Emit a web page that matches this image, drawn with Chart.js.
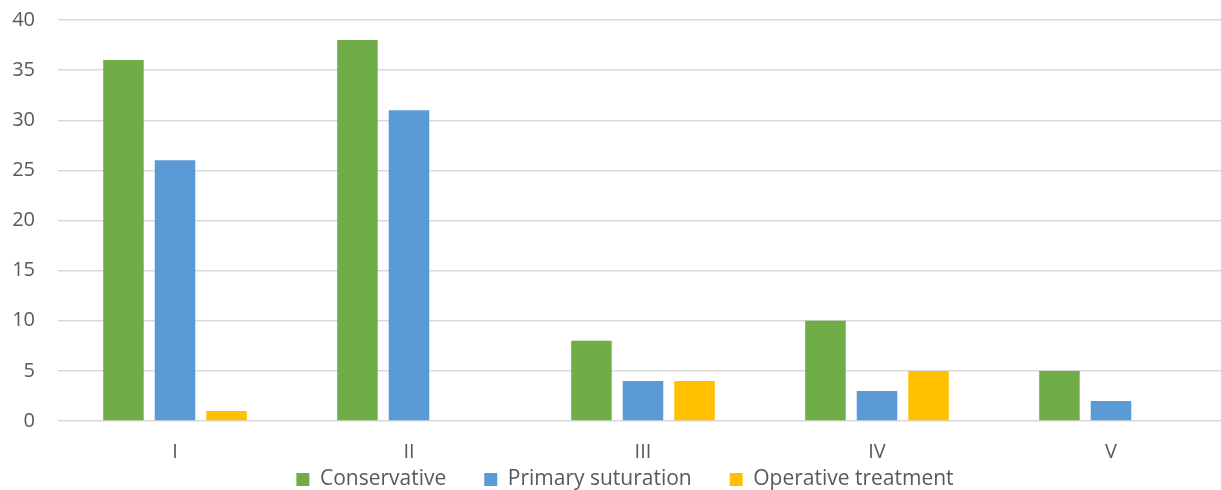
<!DOCTYPE html>
<html>
<head>
<meta charset="utf-8">
<script src="https://cdn.jsdelivr.net/npm/chart.js@4.4.0/dist/chart.umd.min.js"></script>
<style>
  html, body { margin: 0; padding: 0; background: #fff; overflow: hidden; }
  #wrap { width: 1228px; height: 500px; }
</style>
</head>
<body>
<div id="wrap"><canvas id="barChart"></canvas></div>
<script>
const grades = ['I', 'II', 'III', 'IV', 'V'];
const conservative = [36, 38, 8, 10, 5];
const primarySuturation = [26, 31, 4, 3, 2];
const operativeTreatment = [1, 0, 4, 5, 0];
const yTicks = [0, 5, 10, 15, 20, 25, 30, 35, 40];

const textClr = '#595959';
const gridClr = '#d9d9d9';
const tickFont = { family: '"Open Sans", sans-serif', size: 20 };
const legendFont = { family: '"Open Sans", sans-serif', size: 21 };

// legend keeps its wide item spacing, but its empty top padding may overlap the x labels
const legendShift = { x: 11, y: 44 };
const legendShiftPlugin = {
    id: 'legendShift',
    beforeInit: function (chart) {
        const legend = chart.legend;
        const fit = legend.fit;
        legend.fit = function () {
            fit.call(legend);
            legend.height -= legendShift.y;
        };
    },
    afterLayout: function (chart) {
        const legend = chart.legend;
        legend.top -= legendShift.y;
        legend.height += legendShift.y;
        legend.left += legendShift.x;
        legend.right += legendShift.x;
    }
};

const barData = {
    labels: grades,
    datasets: [{
        label: 'Conservative',
        backgroundColor: '#70AD47',
        data: conservative
    }, {
        label: 'Primary suturation',
        backgroundColor: '#5B9BD5',
        data: primarySuturation
    }, {
        label: 'Operative treatment',
        backgroundColor: '#FFC000',
        data: operativeTreatment
    }]
};

const barConfig = {
    type: 'bar',
    data: barData,
    plugins: [legendShiftPlugin],
    options: {
        responsive: true,
        maintainAspectRatio: false,
        animation: false,
        categoryPercentage: 0.661,
        barPercentage: 0.786,
        layout: {
            padding: { left: 0, top: 20, right: 0, bottom: 0 }
        },
        scales: {
            x: {
                grid: { display: false },
                border: { display: false },
                ticks: { color: textClr, font: tickFont, padding: 11 }
            },
            y: {
                min: 0,
                max: yTicks[yTicks.length - 1],
                afterFit: function (scale) {
                    scale.width = 58;
                    scale.paddingTop = 0;
                    scale.paddingBottom = 0;
                },
                afterBuildTicks: function (scale) {
                    scale.ticks = yTicks.map(function (v) { return { value: v }; });
                },
                grid: { color: gridClr, lineWidth: 1.5, drawTicks: false },
                border: { display: false },
                ticks: { color: textClr, font: tickFont, padding: 23 }
            }
        },
        plugins: {
            tooltip: { enabled: false },
            legend: {
                position: 'bottom',
                labels: {
                    color: textClr,
                    font: legendFont,
                    boxWidth: 13,
                    boxHeight: 13,
                    padding: 38
                }
            }
        }
    }
};

new Chart(document.getElementById('barChart'), barConfig);
</script>
</body>
</html>
